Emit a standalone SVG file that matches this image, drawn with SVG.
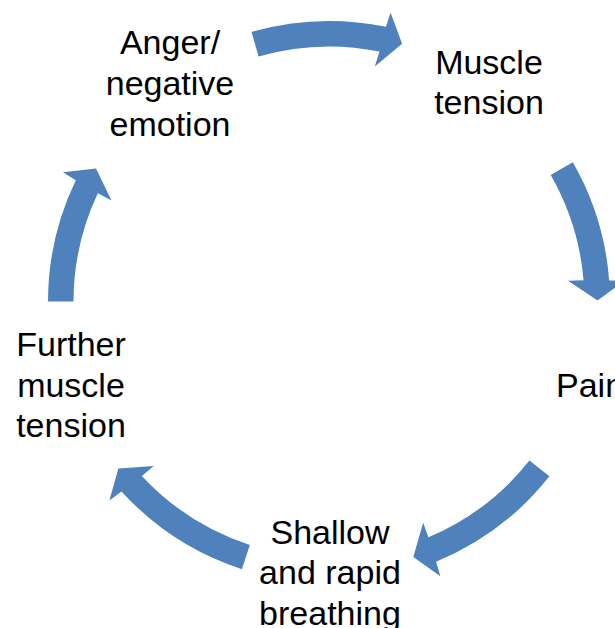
<svg xmlns="http://www.w3.org/2000/svg" width="615" height="628" viewBox="0 0 615 628">
<style>
.arrow{fill:#4F81BD;stroke:none}
.lbl{font-family:"Liberation Sans",Arial,sans-serif;font-size:34px;fill:#000;text-anchor:middle}
</style>
<rect width="615" height="628" fill="#fff"/>
<g id="connectors">
<path class="arrow" d="M251.54,31.89 A281,281 0 0 1 385.98,26.84 L390.54,12.47 L402.11,43.64 L374.79,66.41 L379.5,51.54 A255.5,255.5 0 0 0 258.57,56.4 Z"/>
<path class="arrow" d="M572.84,162.35 A281,281 0 0 1 609.17,280.44 L624.24,280.84 L597.5,300.59 L568.05,280.67 L583.57,280.18 A255.5,255.5 0 0 0 550.71,175.02 Z"/>
<path class="arrow" d="M549.4,476.3 A281,281 0 0 1 436.08,561.8 L440.36,576.25 L413.31,556.92 L423.16,522.76 L428.42,537.36 A255.5,255.5 0 0 0 529.4,460.48 Z"/>
<path class="arrow" d="M241.93,569.17 A281,281 0 0 1 121.49,491.48 L109.37,500.45 L118.38,468.53 L153.76,465.98 L141.84,475.92 A255.5,255.5 0 0 0 249.83,544.93 Z"/>
<path class="arrow" d="M48,301.51 A281,281 0 0 1 75.8,180.14 L62.96,172.24 L96,168.56 L111.49,200.57 L97.82,193.21 A255.5,255.5 0 0 0 73.5,301.55 Z"/>
</g>
<g id="node-anger">
<text class="lbl" x="170" y="54">Anger/</text>
<text class="lbl" x="170" y="95">negative</text>
<text class="lbl" x="170" y="135.5">emotion</text>
</g>
<g id="node-muscle">
<text class="lbl" x="489" y="73.5">Muscle</text>
<text class="lbl" x="489" y="114">tension</text>
</g>
<g id="node-pain">
<text class="lbl" x="556" y="397" style="text-anchor:start">Pain</text>
</g>
<g id="node-shallow">
<text class="lbl" x="330" y="543.5">Shallow</text>
<text class="lbl" x="330" y="584">and rapid</text>
<text class="lbl" x="330" y="624.5">breathing</text>
</g>
<g id="node-further">
<text class="lbl" x="71" y="356">Further</text>
<text class="lbl" x="71" y="396.5">muscle</text>
<text class="lbl" x="71" y="437">tension</text>
</g>
</svg>
